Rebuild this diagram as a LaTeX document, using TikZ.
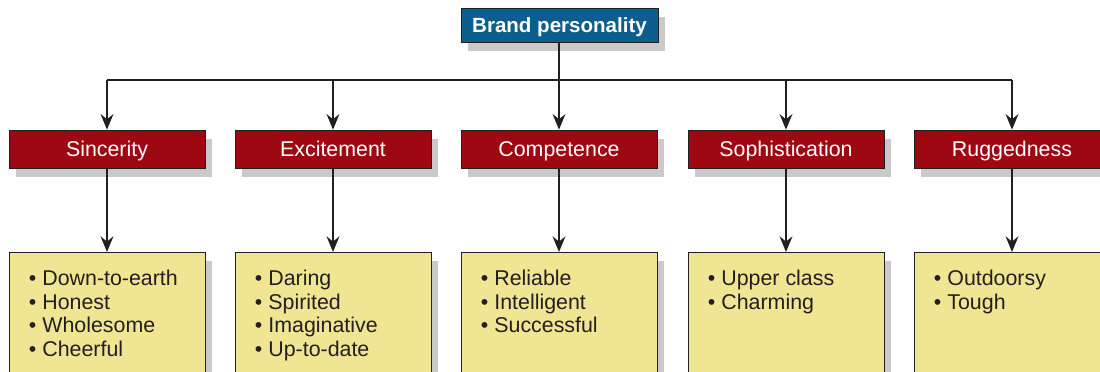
\documentclass[tikz,border=0pt]{standalone}
\usepackage{fontspec}
\setmainfont{Liberation Sans}
\usetikzlibrary{arrows.meta,positioning,shadows}
\definecolor{bpblue}{HTML}{0C5E8E}
\definecolor{bpred}{HTML}{9E0812}
\definecolor{bpyellow}{HTML}{EFE593}
\definecolor{bpline}{HTML}{231F20}

\begin{document}
\begin{tikzpicture}[
    x=0.025cm, y=-0.025cm,
    shade/.style={drop shadow={shadow xshift=0.17cm, shadow yshift=-0.22cm, opacity=0.3, fill=black!70}},
    topbox/.style={rectangle, draw=bpline, thin, fill=bpblue, shade, text=white, font=\fontsize{14.6}{16}\selectfont\bfseries, text height=10.5pt, text depth=0pt, minimum width=4.925cm, minimum height=0.85cm, inner sep=0pt},
    trait/.style={rectangle, draw=bpline, thin, fill=bpred, shade, text=white, font=\fontsize{15.2}{16}\selectfont, text height=10.9pt, text depth=0pt, minimum width=4.9cm, minimum height=0.95cm, inner sep=0pt},
    facet/.style={rectangle, draw=bpline, thin, fill=bpyellow, shade, minimum width=4.9cm, minimum height=4cm, anchor=north},
    items/.style={anchor=north west, align=left, inner sep=0pt, text=bpline, font=\fontsize{15.2}{16.65}\selectfont},
    line/.style={line width=2.1pt, bpline},
    arrow/.style={line, -{Stealth[length=11pt, width=9pt]}}
  ]
    \clip (0,0) rectangle (1100,372);

    \node[topbox] (brand) at (559.5,25) {Brand personality};

    \node[trait] (sinc) at (107,149) {Sincerity};
    \node[trait] (exci) at (333,149) {Excitement};
    \node[trait] (comp) at (559,149) {Competence};
    \node[trait] (soph) at (786,149) {Sophistication};
    \node[trait] (rugg) at (1012,149) {Ruggedness};

    \node[facet] (sinc-f) at (107,252) {};
    \node[facet] (exci-f) at (333,252) {};
    \node[facet] (comp-f) at (559,252) {};
    \node[facet] (soph-f) at (786,252) {};
    \node[facet] (rugg-f) at (1012,252) {};

    \node[items] (sinc-i) at ([shift={(0.5cm,-0.45cm)}]sinc-f.north west)
      {\textbullet\ Down-to-earth\\\textbullet\ Honest\\\textbullet\ Wholesome\\\textbullet\ Cheerful};
    \node[items] (exci-i) at ([shift={(0.5cm,-0.45cm)}]exci-f.north west)
      {\textbullet\ Daring\\\textbullet\ Spirited\\\textbullet\ Imaginative\\\textbullet\ Up-to-date};
    \node[items] (comp-i) at ([shift={(0.5cm,-0.45cm)}]comp-f.north west)
      {\textbullet\ Reliable\\\textbullet\ Intelligent\\\textbullet\ Successful};
    \node[items] (soph-i) at ([shift={(0.5cm,-0.45cm)}]soph-f.north west)
      {\textbullet\ Upper class\\\textbullet\ Charming};
    \node[items] (rugg-i) at ([shift={(0.5cm,-0.45cm)}]rugg-f.north west)
      {\textbullet\ Outdoorsy\\\textbullet\ Tough};

    % bus line under the title
    \coordinate (bus) at (559,80);
    \draw[line] (brand.south -| bus) -- (bus);
    \draw[line] (sinc.north |- bus) -- (rugg.north |- bus);

    \foreach \n in {sinc,exci,comp,soph,rugg} {
      \draw[arrow] (\n.north |- bus) -- (\n.north);
      \draw[arrow] (\n.south) -- (\n-f.north);
    }
  \end{tikzpicture}
\end{document}
